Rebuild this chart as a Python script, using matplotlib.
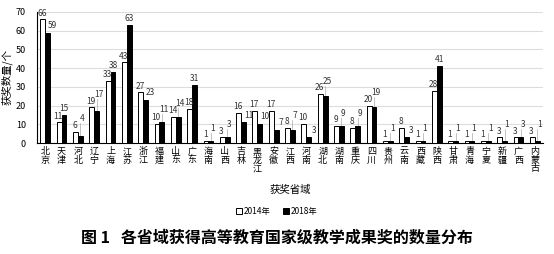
import matplotlib.pyplot as plt
import numpy as np

plt.rcParams['font.family'] = ['Noto Sans CJK SC', 'DejaVu Sans']

# data
provinces = ['北京', '天津', '河北', '辽宁', '上海', '江苏', '浙江', '福建', '山东', '广东',
             '海南', '山西', '吉林', '黑龙江', '安徽', '江西', '河南', '湖北', '湖南', '重庆',
             '四川', '贵州', '云南', '西藏', '陕西', '甘肃', '青海', '宁夏', '新疆', '广西', '内蒙古']
y2014 = [66, 11, 6, 19, 33, 43, 27, 10, 14, 18,
         1, 3, 16, 17, 17, 8, 10, 26, 9, 8,
         20, 1, 8, 1, 28, 1, 1, 1, 3, 3, 3]
y2018 = [59, 15, 4, 17, 38, 63, 23, 11, 14, 31,
         1, 3, 11, 10, 7, 7, 3, 25, 9, 9,
         19, 1, 3, 1, 41, 1, 1, 1, 1, 3, 1]

x = np.arange(len(provinces))
w = 0.3

fig = plt.figure(figsize=(5.54, 2.54), dpi=100)
ax = fig.add_axes([0.067, 0.437, 0.913, 0.516])

ax.bar(x - w/2, y2014, w, color='white', edgecolor='black', linewidth=0.7, label='2014年', zorder=3)
ax.bar(x + w/2, y2018, w, color='black', edgecolor='black', linewidth=0.7, label='2018年', zorder=3)

# data labels: white bar label above, black bar label above or pulled to the right
lab_col = '#333333'
fs = 6
for i in range(len(x)):
    a, b = y2014[i], y2018[i]
    ax.text(x[i] - w/2 - 0.05, a + 1.0, str(a), ha='center', va='bottom', fontsize=fs,
            color=lab_col, zorder=4)
    if b > a + 3:
        ax.text(x[i] + w/2, b + 1.0, str(b), ha='center', va='bottom', fontsize=fs,
                color=lab_col, zorder=4)
    elif b < a - 3:
        ax.text(x[i] + w/2 + 0.3, b + 1.5, str(b), ha='center', va='bottom', fontsize=fs,
                color=lab_col, zorder=4)
    else:
        yb = max(a, b) + 4.5
        ax.text(x[i] + w/2 + 0.12, yb, str(b), ha='center', va='bottom', fontsize=fs,
                color=lab_col, zorder=4)
        ax.plot([x[i] + w/2, x[i] + w/2], [b, yb], color='#aaaaaa', lw=0.5, zorder=2)

ax.set_xlim(-0.5, len(x) - 0.5)
ax.set_ylim(0, 70)
ax.set_yticks(np.arange(0, 71, 10))
ax.set_xticks(x)
ax.set_xticklabels(['\n'.join(p) for p in provinces], fontsize=6.5, linespacing=0.95)
ax.tick_params(axis='x', length=0, pad=3)
ax.tick_params(axis='y', length=0, labelsize=6.5, pad=8)
ax.yaxis.grid(True, color='#dddddd', lw=0.8, zorder=0)
ax.set_axisbelow(True)
for s in ['top', 'right']:
    ax.spines[s].set_visible(False)
ax.spines['left'].set_linewidth(0.8)
ax.spines['bottom'].set_linewidth(0.8)

ax.set_ylabel('获奖数量/个', fontsize=7.5, labelpad=2)
ax.set_xlabel('获奖省域', fontsize=7.5, labelpad=8)

fig.legend(loc='center', bbox_to_anchor=(0.5, 0.168), ncol=2, frameon=False, fontsize=6,
           handlelength=0.7, handleheight=0.7, handletextpad=0.2, columnspacing=1.5)

fig.text(0.5, 0.065, '图 1   各省域获得高等教育国家级教学成果奖的数量分布', ha='center', va='center',
         fontsize=11.5, fontweight='bold')

fig.savefig('out.png', dpi=100)
